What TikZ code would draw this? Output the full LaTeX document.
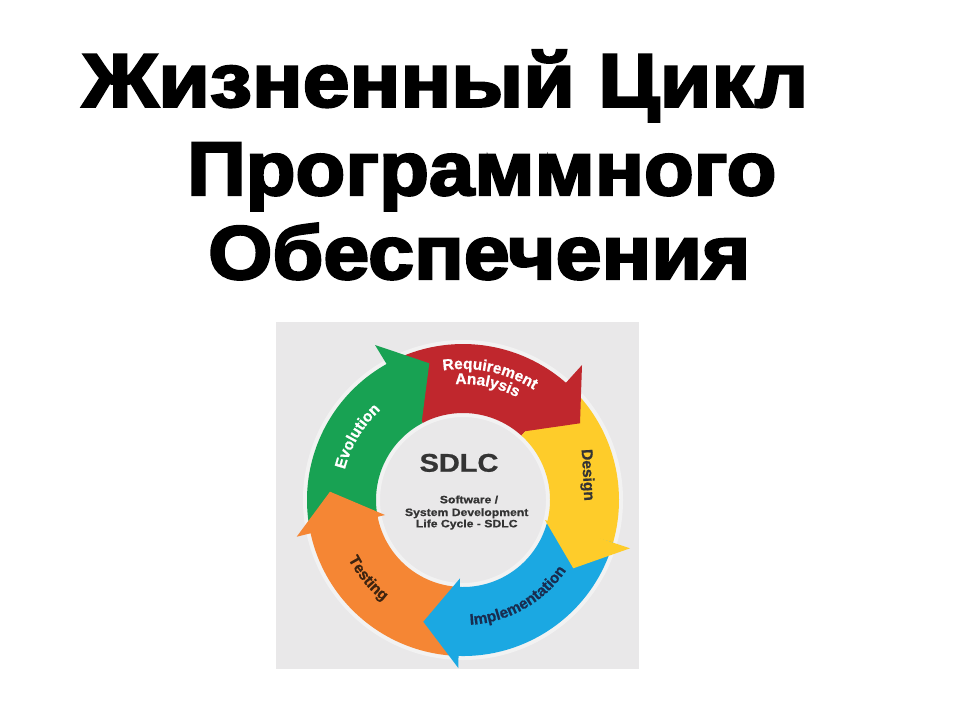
\documentclass[tikz,border=0pt]{standalone}
\usepackage{graphicx}
\usepackage{fontspec}
\setmainfont{Liberation Sans}[BoldFeatures={FakeBold=0.8}]
\setsansfont{Liberation Sans}
\newfontfamily\titlefam{Liberation Sans}[BoldFeatures={FakeBold=3}]
\usetikzlibrary{decorations.text}
\definecolor{bggray}{RGB}{233,232,233}
\definecolor{segred}{RGB}{192,39,45}
\definecolor{segyellow}{RGB}{254,204,42}
\definecolor{segblue}{RGB}{27,168,226}
\definecolor{segorange}{RGB}{245,134,52}
\definecolor{seggreen}{RGB}{24,162,83}
\definecolor{txtdark}{RGB}{52,52,52}
\definecolor{txtnavy}{RGB}{25,45,80}
\definecolor{txtbrown}{RGB}{62,36,16}
\newcommand\ringseg[3]{%
  \fill[#1] (#2:156pt) arc[start angle=#2, end angle=#3, radius=156pt]
    -- (#3:87pt) arc[start angle=#3, end angle=#2, radius=87pt] -- cycle;}
\newcommand\lblfont{\fontsize{15.5}{18}\selectfont\bfseries}
\begin{document}
\begin{tikzpicture}[x=1pt,y=-1pt,
  titletext/.style={anchor=base west, inner sep=0pt, font=\titlefam\fontsize{76}{80}\selectfont\bfseries},
  centertext/.style={anchor=base, inner sep=0pt, text=txtdark, font=\fontsize{10.7}{12}\selectfont\bfseries}]
\useasboundingbox (0,0) rectangle (960,720);
\fill[white] (0,0) rectangle (960,720);
% title
\node[titletext] (t1) at (82,106.7) {\resizebox{726pt}{\height}{Жизненный Цикл}};
\node[titletext] (t2) at (187,195) {\resizebox{589pt}{\height}{Программного}};
\node[titletext] (t3) at (208,279) {\resizebox{542pt}{\height}{Обеспечения}};
% picture background
\fill[bggray] (276,322) rectangle (639,669);
% ring
\begin{scope}[shift={(463,500)}]
  \fill[white,opacity=0.45,even odd rule] (0,0) circle[radius=160pt] (0,0) circle[radius=83pt];
  \ringseg{segred}{117.65}{47.8}
  \ringseg{segyellow}{47.8}{-15.85}
  \ringseg{segblue}{-15.85}{-93}
  \ringseg{segorange}{-93}{-169.25}
  \ringseg{seggreen}{190.75}{117.65}
\end{scope}
% arrow heads
\fill[segred] (582,365) -- (580,423.3) -- (521.7,431.7) -- cycle;
\fill[segyellow] (545,520) -- (630,548.3) -- (573.3,568.3) -- cycle;
\fill[segblue] (460,578.3) -- (458.3,668) -- (423.3,621.7) -- cycle;
\fill[segorange] (385,515) -- (296.7,536.7) -- (330,491.7) -- cycle;
\fill[seggreen] (375,345) -- (421.7,421.7) -- (429.3,363.3) -- cycle;
% curved labels
\begin{scope}[shift={(463,500)}]
  \path[decorate, decoration={text along path, text align=center,
      text={|\lblfont\color{white}|Requirement}}]
    (118:131pt) arc[start angle=118, end angle=38, radius=131pt];
  \path[decorate, decoration={text along path, text align=center,
      text={|\lblfont\color{white}|Analysis}}]
    (118:116pt) arc[start angle=118, end angle=38, radius=116pt];
  \path[decorate, decoration={text along path, text align=center,
      text={|\lblfont\color{white}|Evolution}}]
    (194:122pt) arc[start angle=194, end angle=104, radius=122pt];
  \path[decorate, decoration={text along path, text align=center,
      text={|\lblfont\color{txtnavy}|Implementation}}]
    (-105.5:125pt) arc[start angle=-105.5, end angle=-15.5, radius=125pt];
  \path[decorate, decoration={text along path, text align=center,
      text={|\lblfont\color{txtbrown}|Testing}}]
    (174.5:129pt) arc[start angle=174.5, end angle=264.5, radius=129pt];
\end{scope}
\node[rotate=-87, inner sep=0pt, text=txtdark, font=\lblfont] (design) at (587,475) {Design};
% centre texts
\node[anchor=base, inner sep=0pt, text=txtdark, font=\fontsize{25.6}{28}\selectfont\bfseries] (sdlc) at (459,471.7) {\scalebox{1.13}[1]{SDLC}};
\node[centertext] (c1) at (469,503.3) {\scalebox{1.14}[1]{Software /}};
\node[centertext] (c2) at (466.7,516) {\scalebox{1.14}[1]{System Development}};
\node[centertext] (c3) at (466.7,527.3) {\scalebox{1.14}[1]{Life Cycle - SDLC}};
\end{tikzpicture}
\end{document}
